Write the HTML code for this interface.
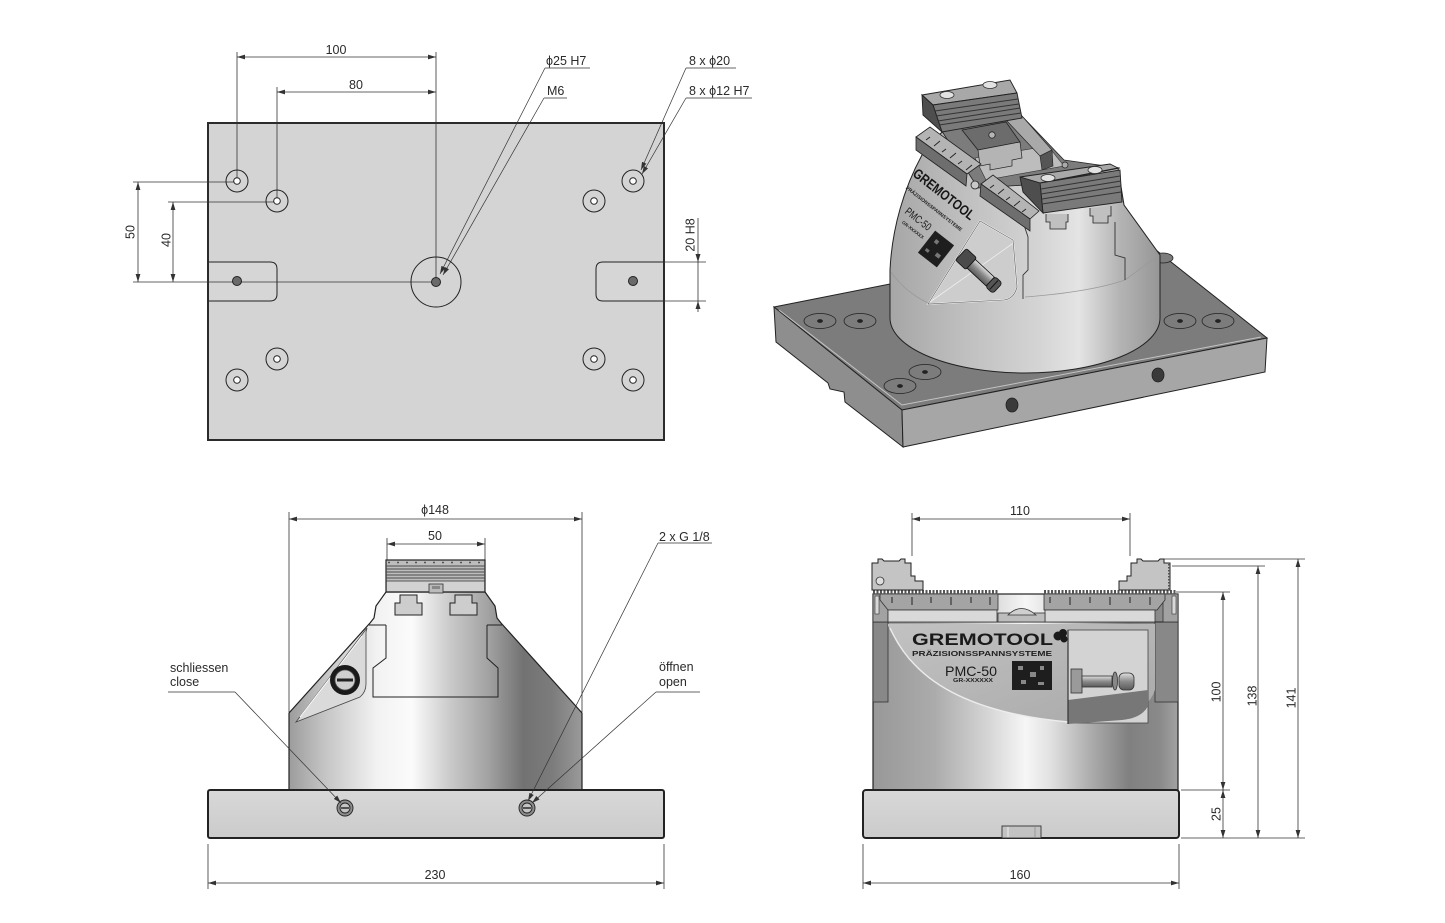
<!DOCTYPE html>
<html><head><meta charset="utf-8">
<style>
html,body{margin:0;padding:0;background:#fff;}
svg{display:block;}
text{font-family:"Liberation Sans","DejaVu Sans",sans-serif;fill:#2a2a2a;}
</style></head><body>
<svg width="1445" height="923" viewBox="0 0 1445 923" xmlns="http://www.w3.org/2000/svg">
<defs>
<marker id="ar" viewBox="0 0 10 6" refX="10" refY="3" markerWidth="8" markerHeight="5" markerUnits="userSpaceOnUse" orient="auto-start-reverse"><path d="M0,0 L10,3 L0,6 z" fill="#333"/></marker>
<linearGradient id="gF" gradientUnits="userSpaceOnUse" x1="289" y1="0" x2="582" y2="0">
<stop offset="0" stop-color="#9c9c9c"/><stop offset="0.12" stop-color="#c4c4c4"/><stop offset="0.3" stop-color="#f2f2f2"/><stop offset="0.42" stop-color="#fbfbfb"/><stop offset="0.55" stop-color="#cacaca"/><stop offset="0.68" stop-color="#a2a2a2"/><stop offset="0.8" stop-color="#727272"/><stop offset="0.9" stop-color="#7c7c7c"/><stop offset="1" stop-color="#9a9a9a"/>
</linearGradient>
<linearGradient id="gS" gradientUnits="userSpaceOnUse" x1="873" y1="0" x2="1178" y2="0">
<stop offset="0" stop-color="#989898"/><stop offset="0.2" stop-color="#ababab"/><stop offset="0.38" stop-color="#d6d6d6"/><stop offset="0.5" stop-color="#f6f6f6"/><stop offset="0.58" stop-color="#e2e2e2"/><stop offset="0.72" stop-color="#aaaaaa"/><stop offset="0.84" stop-color="#808080"/><stop offset="0.94" stop-color="#8a8a8a"/><stop offset="1" stop-color="#a2a2a2"/>
</linearGradient>
<linearGradient id="gI" gradientUnits="userSpaceOnUse" x1="890" y1="0" x2="1160" y2="0">
<stop offset="0" stop-color="#a6a6a6"/><stop offset="0.25" stop-color="#bdbdbd"/><stop offset="0.55" stop-color="#d4d4d4"/><stop offset="0.7" stop-color="#e4e4e4"/><stop offset="0.85" stop-color="#b4b4b4"/><stop offset="1" stop-color="#969696"/>
</linearGradient>
<linearGradient id="gP" x1="0" y1="0" x2="0" y2="1">
<stop offset="0" stop-color="#d8d8d8"/><stop offset="1" stop-color="#cbcbcb"/>
</linearGradient>
<linearGradient id="gPanel" x1="0" y1="0" x2="1" y2="1">
<stop offset="0" stop-color="#c2c2c2"/><stop offset="1" stop-color="#a9a9a9"/>
</linearGradient>
<linearGradient id="gBolt" x1="0" y1="0" x2="0" y2="1">
<stop offset="0" stop-color="#e0e0e0"/><stop offset="0.5" stop-color="#8a8a8a"/><stop offset="1" stop-color="#5a5a5a"/>
</linearGradient>
</defs>

<!-- ================= TOP LEFT: PLATE VIEW ================= -->
<rect x="208" y="123" width="456" height="317" fill="#d4d4d4" stroke="#2b2b2b" stroke-width="2"/>
<path d="M209,262 H270 Q277,262 277,269 V294 Q277,301 270,301 H209" fill="#d6d6d6" stroke="#222" stroke-width="1"/>
<path d="M663,262 H603 Q596,262 596,269 V294 Q596,301 603,301 H663" fill="#d6d6d6" stroke="#222" stroke-width="1"/>
<g stroke="#333" stroke-width="0.8" fill="none">
<line x1="237" y1="52" x2="237" y2="181"/>
<line x1="436" y1="52" x2="436" y2="282"/>
<line x1="277" y1="87" x2="277" y2="201"/>
<line x1="133" y1="182" x2="237" y2="182"/>
<line x1="168" y1="202" x2="277" y2="202"/>
<line x1="133" y1="282" x2="436" y2="282"/>
<line x1="237" y1="57" x2="436" y2="57" marker-start="url(#ar)" marker-end="url(#ar)"/>
<line x1="277" y1="92" x2="436" y2="92" marker-start="url(#ar)" marker-end="url(#ar)"/>
<line x1="138" y1="182" x2="138" y2="282" marker-start="url(#ar)" marker-end="url(#ar)"/>
<line x1="173" y1="202" x2="173" y2="282" marker-start="url(#ar)" marker-end="url(#ar)"/>
<line x1="664" y1="262" x2="706" y2="262"/>
<line x1="664" y1="301" x2="706" y2="301"/>
<line x1="698" y1="218" x2="698" y2="312"/>
</g>
<path d="M698,262 L695.5,254 L700.5,254 Z" fill="#333"/>
<path d="M698,301 L695.5,309 L700.5,309 Z" fill="#333"/>
<g stroke="#222" stroke-width="1">
<circle cx="237" cy="181" r="11" fill="none"/><circle cx="237" cy="181" r="3.3" fill="#fff"/>
<circle cx="277" cy="201" r="11" fill="none"/><circle cx="277" cy="201" r="3.3" fill="#fff"/>
<circle cx="237" cy="380" r="11" fill="none"/><circle cx="237" cy="380" r="3.3" fill="#fff"/>
<circle cx="277" cy="359" r="11" fill="none"/><circle cx="277" cy="359" r="3.3" fill="#fff"/>
<circle cx="633" cy="181" r="11" fill="none"/><circle cx="633" cy="181" r="3.3" fill="#fff"/>
<circle cx="594" cy="201" r="11" fill="none"/><circle cx="594" cy="201" r="3.3" fill="#fff"/>
<circle cx="594" cy="359" r="11" fill="none"/><circle cx="594" cy="359" r="3.3" fill="#fff"/>
<circle cx="633" cy="380" r="11" fill="none"/><circle cx="633" cy="380" r="3.3" fill="#fff"/>
<circle cx="436" cy="282" r="25" fill="none"/>
<circle cx="436" cy="282" r="4.5" fill="#6a6a6a"/>
<circle cx="237" cy="281" r="4.5" fill="#6a6a6a"/>
<circle cx="633" cy="281" r="4.5" fill="#6a6a6a"/>
</g>
<g stroke="#333" stroke-width="0.7" fill="none">
<line x1="545" y1="68" x2="590" y2="68"/>
<line x1="545" y1="68" x2="440" y2="274" marker-end="url(#ar)"/>
<line x1="544" y1="98" x2="567" y2="98"/>
<line x1="544" y1="98" x2="443" y2="275" marker-end="url(#ar)"/>
<line x1="686" y1="68" x2="736" y2="68"/>
<line x1="686" y1="68" x2="641" y2="170" marker-end="url(#ar)"/>
<line x1="686" y1="98" x2="752" y2="98"/>
<line x1="686" y1="98" x2="642" y2="174" marker-end="url(#ar)"/>
</g>
<g font-size="12.5">
<text x="336" y="54" text-anchor="middle">100</text>
<text x="356" y="89" text-anchor="middle">80</text>
<text transform="translate(130,232) rotate(-90)" y="4.5" text-anchor="middle">50</text>
<text transform="translate(166,240) rotate(-90)" y="4.5" text-anchor="middle">40</text>
<text transform="translate(690,235) rotate(-90)" y="4.5" text-anchor="middle">20 H8</text>
<text x="546" y="65">ϕ25 H7</text>
<text x="547" y="95">M6</text>
<text x="689" y="65">8 x ϕ20</text>
<text x="689" y="95">8 x ϕ12 H7</text>
</g>

<!-- ================= TOP RIGHT: ISO VIEW ================= -->
<polygon points="774,307 1137,235 1267,338 902,410" fill="#7c7c7c" stroke="#222" stroke-width="1"/>
<polygon points="774,307 902,410 903,447 845,402 844,392 830,389 828,383 776,342" fill="#8e8e8e" stroke="#222" stroke-width="1"/>
<polygon points="902,410 1267,338 1265,372 903,447" fill="#a6a6a6" stroke="#222" stroke-width="1"/>
<polyline points="779,310 902,405 1261,337" fill="none" stroke="#c4c4c4" stroke-width="1"/>
<g stroke="#222" stroke-width="0.8">
<ellipse cx="820" cy="321" rx="16" ry="7.5" fill="#7c7c7c"/><ellipse cx="820" cy="321" rx="2.5" ry="1.5" fill="#222"/>
<ellipse cx="860" cy="321" rx="16" ry="7.5" fill="#7c7c7c"/><ellipse cx="860" cy="321" rx="2.5" ry="1.5" fill="#222"/>
<ellipse cx="1180" cy="321" rx="16" ry="7.5" fill="#7c7c7c"/><ellipse cx="1180" cy="321" rx="2.5" ry="1.5" fill="#222"/>
<ellipse cx="1218" cy="321" rx="16" ry="7.5" fill="#7c7c7c"/><ellipse cx="1218" cy="321" rx="2.5" ry="1.5" fill="#222"/>
<ellipse cx="925" cy="372" rx="16" ry="7.5" fill="#7c7c7c"/><ellipse cx="925" cy="372" rx="2.5" ry="1.5" fill="#222"/>
<ellipse cx="900" cy="386" rx="16" ry="7.5" fill="#7c7c7c"/><ellipse cx="900" cy="386" rx="2.5" ry="1.5" fill="#222"/>
<ellipse cx="1012" cy="405" rx="6" ry="7" fill="#3a3a3a"/>
<ellipse cx="1158" cy="375" rx="6" ry="7" fill="#3a3a3a"/>
<ellipse cx="1163" cy="258" rx="10" ry="5" fill="#7c7c7c"/>
</g>
<!-- body -->
<path d="M890,318 L890,270 C892,228 904,188 922,155 L942,132 L1020,118 L1062,162 L1118,168 L1124,205 L1160,255 L1160,318 A135,55 0 0 1 890,318 Z" fill="url(#gI)" stroke="#222" stroke-width="1"/>
<path d="M891,272 Q905,292 928,303" fill="none" stroke="#9a9a9a" stroke-width="0.8"/>
<path d="M1025,297 Q1090,292 1125,280 L1158,256" fill="none" stroke="#9a9a9a" stroke-width="0.8"/>
<!-- right face recess -->
<path d="M1023,222 L1028,237 V270 L1023,275 V299" fill="none" stroke="#333" stroke-width="0.9"/>
<path d="M1115,222 V255 L1125,258 V280" fill="none" stroke="#333" stroke-width="0.9"/>
<!-- port plate -->
<path d="M928,304 L980,221 L1013,240 L1017,287 Q1014,299 1004,300 Z" fill="#cdcdcd" stroke="#f4f4f4" stroke-width="1.6"/>
<path d="M928,304 L980,221 L1013,240 L1017,287 Q1014,299 1004,300 Z" fill="none" stroke="#555" stroke-width="0.6"/>
<line x1="930" y1="302" x2="1012" y2="244" stroke="#eee" stroke-width="0.8"/>
<g transform="translate(980,272) rotate(43)">
<rect x="-26" y="-8" width="14" height="16" rx="2" fill="#4a4a4a" stroke="#111" stroke-width="0.8"/>
<rect x="-12" y="-6" width="26" height="12" fill="url(#gBolt)" stroke="#111" stroke-width="0.8"/>
<rect x="14" y="-7" width="10" height="14" rx="3" fill="#555" stroke="#111" stroke-width="0.8"/>
<line x1="19" y1="-6" x2="19" y2="6" stroke="#111" stroke-width="1"/>
</g>
<!-- guide base between jaws -->
<polygon points="940,128 1020,114 1064,160 1120,168 1040,184 978,188 960,160" fill="#7c7c7c" stroke="#222" stroke-width="0.8"/>
<polygon points="975,158 1048,146 1064,166 986,180" fill="#bdbdbd" stroke="#333" stroke-width="0.6"/>
<!-- right guide rail slope -->
<polygon points="1006,120 1022,116 1052,150 1040,156" fill="#a9a9a9" stroke="#222" stroke-width="0.7"/>
<polygon points="1040,156 1052,150 1053,166 1042,170" fill="#555" stroke="#222" stroke-width="0.6"/>
<!-- central slide -->
<polygon points="962,130 1006,122 1020,142 978,150" fill="#6c6c6c" stroke="#222" stroke-width="0.8"/>
<circle cx="992" cy="135" r="3.2" fill="#b5b5b5" stroke="#222" stroke-width="0.8"/>
<path d="M978,150 L1020,142 L1022,158 L1012,160 L1012,166 L990,170 L990,164 L980,166 Z" fill="#b4b4b4" stroke="#222" stroke-width="0.7"/>
<circle cx="1065" cy="165" r="3" fill="#aaa" stroke="#222" stroke-width="0.7"/>
<circle cx="975" cy="185" r="4" fill="#c8c8c8" stroke="#222" stroke-width="0.8"/>
<!-- left scale slab -->
<polygon points="916,137 930,127 981,164 967,174" fill="#b4b4b4" stroke="#222" stroke-width="0.8"/>
<polygon points="916,137 967,174 966,186 916,150" fill="#6e6e6e" stroke="#222" stroke-width="0.8"/>
<g stroke="#222" stroke-width="0.9">
<line x1="926" y1="140" x2="930" y2="137"/><line x1="934" y1="146" x2="940" y2="141"/><line x1="942" y1="152" x2="946" y2="149"/><line x1="950" y1="158" x2="956" y2="153"/><line x1="958" y1="164" x2="962" y2="161"/><line x1="966" y1="170" x2="972" y2="165"/>
</g>
<!-- right scale slab -->
<polygon points="981,184 993,175 1039,211 1030,219" fill="#b4b4b4" stroke="#222" stroke-width="0.8"/>
<polygon points="981,184 1030,219 1030,231 980,196" fill="#6e6e6e" stroke="#222" stroke-width="0.8"/>
<g stroke="#222" stroke-width="0.9">
<line x1="990" y1="188" x2="994" y2="185"/><line x1="998" y1="194" x2="1004" y2="189"/><line x1="1006" y1="200" x2="1010" y2="197"/><line x1="1014" y1="206" x2="1020" y2="201"/><line x1="1022" y1="212" x2="1026" y2="209"/>
</g>
<!-- rear jaw -->
<polygon points="922,95 1010,80 1017,93 933,105" fill="#a8a8a8" stroke="#222" stroke-width="0.9"/>
<polygon points="933,105 1017,93 1022,118 942,132" fill="#7a7a7a" stroke="#222" stroke-width="0.9"/>
<polygon points="922,95 933,105 942,132 923,115" fill="#4e4e4e" stroke="#222" stroke-width="0.9"/>
<g stroke="#333" stroke-width="1">
<line x1="935" y1="111" x2="1018" y2="99"/><line x1="936" y1="116" x2="1019" y2="104"/><line x1="938" y1="121" x2="1020" y2="108"/><line x1="939" y1="125" x2="1021" y2="113"/>
</g>
<ellipse cx="947" cy="95" rx="7" ry="3.5" fill="#e2e2e2" stroke="#333" stroke-width="0.8"/>
<ellipse cx="990" cy="85" rx="7" ry="3.5" fill="#e2e2e2" stroke="#333" stroke-width="0.8"/>
<!-- front jaw -->
<polygon points="1020,177 1110,164 1118,168 1040,183" fill="#a8a8a8" stroke="#222" stroke-width="0.9"/>
<polygon points="1040,183 1120,170 1122,202 1043,213" fill="#7a7a7a" stroke="#222" stroke-width="0.9"/>
<polygon points="1020,177 1040,183 1043,213 1023,192" fill="#4e4e4e" stroke="#222" stroke-width="0.9"/>
<g stroke="#333" stroke-width="1">
<line x1="1041" y1="189" x2="1120" y2="176"/><line x1="1041" y1="194" x2="1121" y2="181"/><line x1="1042" y1="199" x2="1121" y2="186"/><line x1="1042" y1="204" x2="1121" y2="192"/>
</g>
<ellipse cx="1048" cy="178" rx="7" ry="3.5" fill="#e2e2e2" stroke="#333" stroke-width="0.8"/>
<ellipse cx="1095" cy="170" rx="7" ry="3.5" fill="#e2e2e2" stroke="#333" stroke-width="0.8"/>
<path d="M1046,214 V222 H1050 V229 H1066 V222 H1068 V214" fill="#c0c0c0" stroke="#222" stroke-width="0.8"/>
<path d="M1090,208 V216 H1093 V223 H1108 V216 H1111 V206" fill="#c0c0c0" stroke="#222" stroke-width="0.8"/>
<!-- logo on left face -->
<text transform="translate(941,198) rotate(38)" text-anchor="middle" font-size="14" font-weight="bold" textLength="74" lengthAdjust="spacingAndGlyphs" style="fill:#161616">GREMOTOOL</text>
<text transform="translate(933,210) rotate(38)" text-anchor="middle" font-size="5" font-weight="bold" textLength="70" lengthAdjust="spacingAndGlyphs" style="fill:#222">PRÄZISIONSSPANNSYSTEME</text>
<text transform="translate(916,222) rotate(38)" text-anchor="middle" font-size="11" textLength="30" lengthAdjust="spacingAndGlyphs" style="fill:#1a1a1a">PMC-50</text>
<text transform="translate(912,231) rotate(38)" text-anchor="middle" font-size="4.5" font-weight="bold" style="fill:#222">GR-XXXXXX</text>
<g transform="translate(936,249) rotate(38)">
<rect x="-12" y="-14" width="24" height="28" fill="#1e1e1e"/>
<rect x="-6" y="-8" width="4" height="4" fill="#777"/><rect x="3" y="2" width="5" height="4" fill="#777"/><rect x="-8" y="5" width="4" height="3" fill="#777"/>
</g>

<!-- ================= BOTTOM LEFT: FRONT VIEW ================= -->
<g stroke="#333" stroke-width="0.8" fill="none">
<line x1="289" y1="512" x2="289" y2="712"/>
<line x1="582" y1="512" x2="582" y2="712"/>
<line x1="289" y1="519" x2="582" y2="519" marker-start="url(#ar)" marker-end="url(#ar)"/>
<line x1="387" y1="538" x2="387" y2="560"/>
<line x1="485" y1="538" x2="485" y2="560"/>
<line x1="387" y1="544" x2="485" y2="544" marker-start="url(#ar)" marker-end="url(#ar)"/>
<line x1="208" y1="844" x2="208" y2="889"/>
<line x1="664" y1="844" x2="664" y2="889"/>
<line x1="208" y1="883" x2="664" y2="883" marker-start="url(#ar)" marker-end="url(#ar)"/>
</g>
<path d="M289,790 V713 L370,623 L374,618 L376,606 L386,592 H485 L495,606 L497,618 L501,623 L582,713 V790 Z" fill="url(#gF)" stroke="#222" stroke-width="1.2"/>
<g stroke="#222" stroke-width="1" fill="none">
<path d="M386,625 V658 L373,668 V697 H498 V668 L487,658 V625"/>
<line x1="369" y1="625" x2="386" y2="625"/>
<line x1="487" y1="625" x2="502" y2="625"/>
</g>
<path d="M400,595 H417 V603 H422 V615 H395 V603 H400 Z" fill="#cdcdcd" stroke="#222" stroke-width="1"/>
<path d="M455,595 H472 V603 H477 V615 H450 V603 H455 Z" fill="#cdcdcd" stroke="#222" stroke-width="1"/>
<!-- handle plate -->
<path d="M367,628 L296,722 L360,697 Q366,692 366,684 V632 Z" fill="#dadada" stroke="#444" stroke-width="0.8"/>
<path d="M362,636 L300,717" stroke="#fff" stroke-width="1" fill="none"/>
<circle cx="345" cy="680" r="15" fill="#1a1a1a"/>
<circle cx="345" cy="680" r="10" fill="#cfcfcf" stroke="#555" stroke-width="0.8"/>
<rect x="337" y="678.5" width="16" height="3" fill="#222"/>
<!-- jaw -->
<rect x="386" y="560" width="99" height="32" fill="#bdbdbd" stroke="#222" stroke-width="1.2"/>
<line x1="388" y1="562.5" x2="484" y2="562.5" stroke="#555" stroke-width="1.5" stroke-dasharray="2,7"/>
<g stroke="#4a4a4a" stroke-width="1.1">
<line x1="386" y1="566" x2="485" y2="566"/><line x1="386" y1="569" x2="485" y2="569"/><line x1="386" y1="572" x2="485" y2="572"/><line x1="386" y1="575" x2="485" y2="575"/><line x1="386" y1="578" x2="485" y2="578"/>
</g>
<rect x="387" y="581" width="97" height="10" fill="#d2d2d2"/>
<line x1="386" y1="581" x2="485" y2="581" stroke="#333" stroke-width="0.8"/>
<rect x="429" y="584" width="14" height="9" fill="#bbb" stroke="#333" stroke-width="0.8"/>
<rect x="432" y="586" width="8" height="3" fill="#888"/>
<!-- base plate -->
<rect x="208" y="790" width="456" height="48" rx="2" fill="url(#gP)" stroke="#222" stroke-width="2"/>
<g stroke="#222" stroke-width="0.9">
<circle cx="345" cy="808" r="8" fill="#8c8c8c"/><circle cx="345" cy="808" r="5" fill="#c4c4c4"/><line x1="341" y1="808" x2="349" y2="808" stroke-width="1.4"/>
<circle cx="527" cy="808" r="8" fill="#8c8c8c"/><circle cx="527" cy="808" r="5" fill="#c4c4c4"/><line x1="523" y1="808" x2="531" y2="808" stroke-width="1.4"/>
</g>
<g stroke="#333" stroke-width="0.7" fill="none">
<line x1="168" y1="692" x2="235" y2="692"/>
<line x1="235" y1="692" x2="341" y2="803" marker-end="url(#ar)"/>
<line x1="656" y1="692" x2="700" y2="692"/>
<line x1="656" y1="692" x2="532" y2="803" marker-end="url(#ar)"/>
<line x1="658" y1="543" x2="712" y2="543"/>
<line x1="658" y1="543" x2="528" y2="801" marker-end="url(#ar)"/>
</g>
<g font-size="12.5">
<text x="435" y="514" text-anchor="middle">ϕ148</text>
<text x="435" y="540" text-anchor="middle">50</text>
<text x="435" y="879" text-anchor="middle">230</text>
<text x="659" y="541">2 x G 1/8</text>
<text x="170" y="672">schliessen</text>
<text x="170" y="686">close</text>
<text x="659" y="671">öffnen</text>
<text x="659" y="686">open</text>
</g>

<!-- ================= BOTTOM RIGHT: SIDE VIEW ================= -->
<g stroke="#333" stroke-width="0.8" fill="none">
<line x1="912" y1="513" x2="912" y2="556"/>
<line x1="1130" y1="513" x2="1130" y2="556"/>
<line x1="912" y1="519" x2="1130" y2="519" marker-start="url(#ar)" marker-end="url(#ar)"/>
<line x1="1164" y1="559" x2="1305" y2="559"/>
<line x1="1172" y1="566" x2="1265" y2="566"/>
<line x1="1176" y1="592" x2="1230" y2="592"/>
<line x1="1181" y1="790" x2="1230" y2="790"/>
<line x1="1181" y1="838" x2="1305" y2="838"/>
<line x1="1298" y1="559" x2="1298" y2="838" marker-start="url(#ar)" marker-end="url(#ar)"/>
<line x1="1258" y1="566" x2="1258" y2="838" marker-start="url(#ar)" marker-end="url(#ar)"/>
<line x1="1223" y1="592" x2="1223" y2="790" marker-start="url(#ar)" marker-end="url(#ar)"/>
<line x1="1223" y1="790" x2="1223" y2="838" marker-start="url(#ar)" marker-end="url(#ar)"/>
<line x1="863" y1="844" x2="863" y2="889"/>
<line x1="1179" y1="844" x2="1179" y2="889"/>
<line x1="863" y1="883" x2="1179" y2="883" marker-start="url(#ar)" marker-end="url(#ar)"/>
</g>
<rect x="873" y="594" width="305" height="196" fill="url(#gS)" stroke="#222" stroke-width="1.2"/>
<!-- upper panel -->
<rect x="873" y="622" width="15" height="80" fill="#888" stroke="#333" stroke-width="0.8"/>
<rect x="1155" y="622" width="23" height="80" fill="#888" stroke="#333" stroke-width="0.8"/>
<path d="M888,624 H1155 V690 Q1150,706 1130,712 L1068,722 Q960,712 912,662 Q896,642 888,626 Z" fill="url(#gPanel)"/>
<path d="M890,628 Q900,650 915,665 Q960,712 1068,722" fill="none" stroke="#ececec" stroke-width="1.4"/>
<line x1="873" y1="622" x2="1178" y2="622" stroke="#222" stroke-width="1"/>
<!-- port window -->
<rect x="1068" y="630" width="80" height="93" fill="#d3d3d3" stroke="#444" stroke-width="0.8"/>
<path d="M1068,700 L1148,690 V706 Q1142,718 1122,720 L1068,724 Z" fill="#777"/>
<line x1="1068" y1="630" x2="1068" y2="724" stroke="#333" stroke-width="1.2"/>
<rect x="1071" y="669" width="11" height="24" fill="#9a9a9a" stroke="#333" stroke-width="0.8"/>
<rect x="1082" y="676" width="30" height="11" fill="url(#gBolt)" stroke="#333" stroke-width="0.8"/>
<ellipse cx="1115" cy="681" rx="2.5" ry="9" fill="#888" stroke="#333" stroke-width="0.8"/>
<rect x="1119" y="673" width="15" height="17" rx="5" fill="url(#gBolt)" stroke="#333" stroke-width="0.8"/>
<!-- logo -->
<text x="912" y="645" font-size="17" font-weight="900" textLength="141" lengthAdjust="spacingAndGlyphs" style="fill:#1a1a1a">GREMOTOOL</text>
<circle cx="1058" cy="636" r="4.5" fill="#1a1a1a"/><circle cx="1063" cy="633" r="4" fill="#1a1a1a"/><circle cx="1064" cy="639" r="3.5" fill="#1a1a1a"/>
<text x="912" y="656" font-size="7" font-weight="bold" textLength="140" lengthAdjust="spacingAndGlyphs" style="fill:#222">PRÄZISIONSSPANNSYSTEME</text>
<text x="945" y="676" font-size="14" textLength="52" lengthAdjust="spacingAndGlyphs" style="fill:#1a1a1a">PMC-50</text>
<text x="953" y="682" font-size="5.5" font-weight="bold" textLength="40" lengthAdjust="spacingAndGlyphs" style="fill:#222">GR-XXXXXX</text>
<rect x="1012" y="661" width="40" height="29" fill="#1e1e1e"/>
<rect x="1018" y="666" width="5" height="4" fill="#888"/><rect x="1030" y="672" width="6" height="5" fill="#888"/><rect x="1040" y="666" width="4" height="4" fill="#888"/><rect x="1021" y="680" width="5" height="4" fill="#888"/><rect x="1038" y="682" width="6" height="3" fill="#888"/>
<!-- top mechanism -->
<rect x="873" y="594" width="15" height="28" fill="#a2a2a2" stroke="#333" stroke-width="0.8"/>
<rect x="875" y="596" width="4" height="18" fill="#d8d8d8" stroke="#333" stroke-width="0.6"/>
<rect x="1163" y="594" width="15" height="28" fill="#a2a2a2" stroke="#333" stroke-width="0.8"/>
<rect x="1172" y="596" width="4" height="18" fill="#d8d8d8" stroke="#333" stroke-width="0.6"/>
<polygon points="880,594 998,594 998,610 888,610 880,600" fill="#a4a4a4" stroke="#333" stroke-width="0.8"/>
<polygon points="1044,594 1165,594 1165,600 1157,610 1044,610" fill="#a4a4a4" stroke="#333" stroke-width="0.8"/>
<g stroke="#222" stroke-width="1">
<line x1="892" y1="597" x2="892" y2="603"/><line x1="912" y1="597" x2="912" y2="605"/><line x1="931" y1="597" x2="931" y2="603"/><line x1="951" y1="597" x2="951" y2="605"/><line x1="971" y1="597" x2="971" y2="603"/><line x1="990" y1="597" x2="990" y2="605"/>
<line x1="1050" y1="597" x2="1050" y2="603"/><line x1="1070" y1="597" x2="1070" y2="605"/><line x1="1090" y1="597" x2="1090" y2="603"/><line x1="1110" y1="597" x2="1110" y2="605"/><line x1="1130" y1="597" x2="1130" y2="603"/><line x1="1150" y1="597" x2="1150" y2="605"/>
</g>
<rect x="888" y="610" width="109" height="12" fill="#d9d9d9" stroke="#333" stroke-width="0.8"/>
<rect x="1045" y="610" width="110" height="12" fill="#d9d9d9" stroke="#333" stroke-width="0.8"/>
<rect x="998" y="613" width="47" height="9" fill="#bdbdbd" stroke="#333" stroke-width="0.8"/>
<path d="M1008,615 Q1021,602 1036,615 Z" fill="#cfcfcf" stroke="#333" stroke-width="0.8"/>
<line x1="873" y1="592" x2="998" y2="592" stroke="#555" stroke-width="4" stroke-dasharray="2,1.5"/>
<line x1="1044" y1="592" x2="1176" y2="592" stroke="#555" stroke-width="4" stroke-dasharray="2,1.5"/>
<!-- jaws -->
<path d="M872,590 V563 H878 V559 H882 L884,561 H899 L901,559 H905 V563 H911 V576 H915 V581 H923 V590 Z" fill="#c4c4c4" stroke="#222" stroke-width="1"/>
<circle cx="880" cy="581" r="4" fill="#ddd" stroke="#333" stroke-width="0.8"/>
<path d="M1170,590 V563 H1164 V559 H1160 L1158,561 H1143 L1141,559 H1137 V563 H1131 V576 H1127 V581 H1119 V590 Z" fill="#c4c4c4" stroke="#222" stroke-width="1"/>
<line x1="1169" y1="564" x2="1169" y2="589" stroke="#555" stroke-width="2" stroke-dasharray="1.5,1.5"/>
<!-- base plate -->
<rect x="863" y="790" width="316" height="48" rx="3" fill="url(#gP)" stroke="#222" stroke-width="2"/>
<rect x="1002" y="826" width="39" height="12" fill="#c2c2c2" stroke="#333" stroke-width="0.9"/>
<line x1="1008" y1="827" x2="1008" y2="837" stroke="#eee" stroke-width="1"/><line x1="1035" y1="827" x2="1035" y2="837" stroke="#999" stroke-width="1"/>
<g font-size="12.5">
<text x="1020" y="515" text-anchor="middle">110</text>
<text x="1020" y="879" text-anchor="middle">160</text>
<text transform="translate(1216,692) rotate(-90)" y="4.5" text-anchor="middle">100</text>
<text transform="translate(1252,696) rotate(-90)" y="4.5" text-anchor="middle">138</text>
<text transform="translate(1291,698) rotate(-90)" y="4.5" text-anchor="middle">141</text>
<text transform="translate(1216,814) rotate(-90)" y="4.5" text-anchor="middle">25</text>
</g>
</svg>
</body></html>
